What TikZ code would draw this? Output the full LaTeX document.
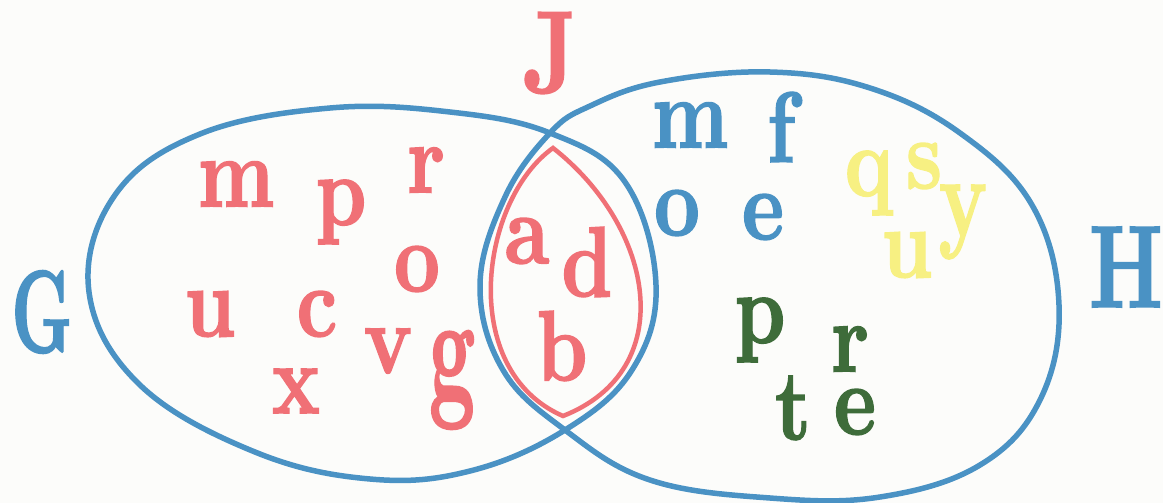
\documentclass[tikz,border=0pt]{standalone}
\usepackage{fontspec}
\newfontfamily\heavy{lmroman10-bold}[Extension=.otf, FakeBold=1.5]
\definecolor{vblue}{RGB}{74,146,196}
\definecolor{vred}{RGB}{240,112,118}
\definecolor{vyellow}{RGB}{247,240,130}
\definecolor{vgreen}{RGB}{62,108,58}
\definecolor{paper}{RGB}{252,252,250}
\newcommand\sx[1]{\scalebox{0.8}[1]{#1}}
\tikzset{
  lt/.style={inner sep=0pt, outer sep=0pt, font=\heavy\fontsize{100}{100}\selectfont},
  capl/.style={inner sep=0pt, outer sep=0pt, font=\heavy\fontsize{117}{117}\selectfont},
  rl/.style={lt, text=vred},
  bl/.style={lt, text=vblue},
  yl/.style={lt, text=vyellow},
  gl/.style={lt, text=vgreen},
  setline/.style={draw=vblue, line width=5.5pt, line join=round},
  lensline/.style={draw=vred, line width=4.5pt, line join=miter},
}
\begin{document}
\begin{tikzpicture}[x=1pt,y=-1pt]
\fill[paper] (0,0) rectangle (1163,503);
\useasboundingbox (0,0) rectangle (1163,503);
% set G
\draw[setline] plot[smooth cycle, tension=0.65] coordinates {(89,292) (115,195) (200,134) (330,108) (450,112) (550,133) (625,182) (656,285) (632,370) (565,430) (470,471) (370,479) (255,452) (140,385)};
% set H
\draw[setline] plot[smooth cycle, tension=0.65] coordinates {(480,285) (503,370) (565,430) (650,480) (770,498) (880,497) (980,465) (1040,400) (1059,305) (1032,205) (960,133) (870,88) (770,72) (660,82) (590,106) (550,133) (505,197)};
% set J (lens)
\draw[lensline] (553,148) .. controls (480,200) and (457,370) .. (563,416) .. controls (680,370) and (655,228) .. cycle;
% labels
\node[capl, text=vred] (J) at (550,53) {\scalebox{0.78}[1]{J}};
\node[capl, text=vblue] (G) at (42,312) {\scalebox{0.58}[1]{G}};
\node[capl, text=vblue] (H) at (1126,267) {\scalebox{0.7}[1]{H}};
% red letters
\node[rl] (rm) at (236,184) {\sx{m}};
\node[rl] (rp) at (341,212) {\sx{p}};
\node[rl] (rr) at (426,170) {\sx{r}};
\node[rl] (ro) at (417,269) {\sx{o}};
\node[rl] (ru) at (210,314) {\sx{u}};
\node[rl] (rc) at (317,314) {\sx{c}};
\node[rl] (rv) at (388,351) {\sx{v}};
\node[rl] (rx) at (296,391) {\sx{x}};
\node[rl] (rg) at (452,380) {\scalebox{0.8}[1.5]{g}};
\node[rl] (ra) at (527,241) {\sx{a}};
\node[rl] (rd) at (587,262) {\sx{d}};
\node[rl] (rb) at (562,346) {\sx{b}};
% blue letters
\node[bl] (bm) at (690,125) {\sx{m}};
\node[bl] (bf) at (781,127) {\sx{f}};
\node[bl] (bo) at (677,213) {\sx{o}};
\node[bl] (be) at (763,217) {\sx{e}};
% yellow letters
\node[yl] (yq) at (869,183) {\sx{q}};
\node[yl] (ys) at (924,166) {\sx{s}};
\node[yl] (yy) at (963,222) {\scalebox{0.8}[1.15]{y}};
\node[yl] (yu) at (907,255) {\sx{u}};
% green letters
\node[gl] (gp) at (760,330) {\sx{p}};
\node[gl] (gr) at (850,349) {\sx{r}};
\node[gl] (gt) at (793,408) {\sx{t}};
\node[gl] (ge) at (855,412) {\sx{e}};
\end{tikzpicture}
\end{document}
